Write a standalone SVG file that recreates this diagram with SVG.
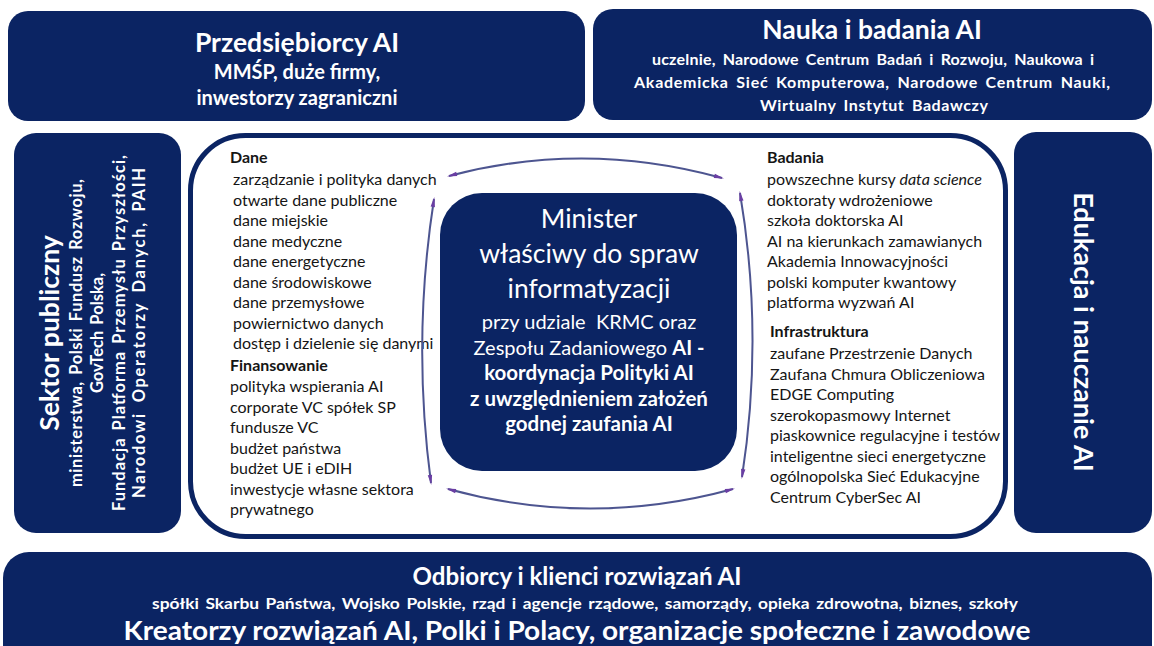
<svg xmlns="http://www.w3.org/2000/svg" width="1154" height="646" viewBox="0 0 1154 646">
<style>
  .navy { fill: #0b2463; }
  .wt { fill: #ffffff; font-family: "Lato", "Open Sans", sans-serif; text-anchor: middle; }
  .b { font-weight: bold; }
  .lst { fill: #151515; font-family: "Lato", "Open Sans", sans-serif; font-size: 16px; }
  .hd { font-weight: bold; }
  .arc { fill: none; stroke: #4d5590; stroke-width: 2; }
</style>
<defs>
  <marker id="ah" viewBox="0 0 10 6" refX="8" refY="3" markerWidth="11" markerHeight="6" markerUnits="userSpaceOnUse" orient="auto-start-reverse">
    <path d="M0,0.8 L10,3 L0,5.2 Z" fill="#6a3ea3"/>
  </marker>
</defs>
<rect width="1154" height="646" fill="#ffffff"/>

<g id="przedsiebiorcy">
  <rect class="navy" x="8" y="11" width="577" height="110" rx="20"/>
  <text class="wt b" x="297" y="52" font-size="26.5">Przedsiębiorcy AI</text>
  <text class="wt b" x="297" y="79" font-size="20">MMŚP, duże firmy,</text>
  <text class="wt b" x="297" y="105" font-size="20">inwestorzy zagraniczni</text>
</g>

<g id="nauka">
  <rect class="navy" x="593" y="9" width="559" height="111" rx="20"/>
  <text class="wt b" x="872" y="39" font-size="26.5">Nauka i badania AI</text>
  <text class="wt b" x="873" y="65" font-size="16" textLength="442" word-spacing="3">uczelnie, Narodowe Centrum Badań i Rozwoju, Naukowa i</text>
  <text class="wt b" x="872" y="88" font-size="16" textLength="476" word-spacing="3">Akademicka Sieć Komputerowa, Narodowe Centrum Nauki,</text>
  <text class="wt b" x="874" y="111" font-size="16" textLength="228" word-spacing="3">Wirtualny Instytut Badawczy</text>
</g>

<g id="sektor">
  <rect class="navy" x="14" y="133" width="167" height="400" rx="22"/>
  <g transform="translate(0,333) rotate(-90)">
    <text class="wt b" x="0" y="59" font-size="26.5">Sektor publiczny</text>
    <text class="wt b" x="0" y="82" font-size="16.5" textLength="308" word-spacing="2">ministerstwa, Polski Fundusz Rozwoju,</text>
    <text class="wt b" x="0" y="103" font-size="16.5" word-spacing="2">GovTech Polska,</text>
    <text class="wt b" x="0" y="125" font-size="16.5" textLength="356" word-spacing="2">Fundacja Platforma Przemysłu Przyszłości,</text>
    <text class="wt b" x="0" y="145" font-size="16.5" textLength="330" word-spacing="4">Narodowi Operatorzy Danych, PAIH</text>
  </g>
</g>

<g id="edukacja">
  <rect class="navy" x="1014" y="132" width="138" height="401" rx="22"/>
  <g transform="translate(1074,332) rotate(90)">
    <text class="wt b" x="0" y="0" font-size="27">Edukacja i nauczanie AI</text>
  </g>
</g>

<g id="obszary">
  <rect x="190.5" y="135.5" width="815" height="401" rx="55" fill="#ffffff" stroke="#0b2463" stroke-width="5"/>
  <g id="dane">
    <text class="lst hd" x="230" y="163">Dane</text>
    <text class="lst" x="233" y="185">zarządzanie i polityka danych</text>
    <text class="lst" x="233" y="205.5">otwarte dane publiczne</text>
    <text class="lst" x="233" y="226">dane miejskie</text>
    <text class="lst" x="233" y="246.5">dane medyczne</text>
    <text class="lst" x="233" y="267">dane energetyczne</text>
    <text class="lst" x="233" y="287.5">dane środowiskowe</text>
    <text class="lst" x="233" y="308">dane przemysłowe</text>
    <text class="lst" x="233" y="328.5">powiernictwo danych</text>
    <text class="lst" x="233" y="349">dostęp i dzielenie się danymi</text>
  </g>
  <g id="finansowanie">
    <text class="lst hd" x="230" y="371">Finansowanie</text>
    <text class="lst" x="230" y="392">polityka wspierania AI</text>
    <text class="lst" x="230" y="412.5">corporate VC spółek SP</text>
    <text class="lst" x="230" y="433">fundusze VC</text>
    <text class="lst" x="230" y="453.5">budżet państwa</text>
    <text class="lst" x="230" y="474">budżet UE i eDIH</text>
    <text class="lst" x="230" y="494.5">inwestycje własne sektora</text>
    <text class="lst" x="230" y="515">prywatnego</text>
  </g>
  <g id="badania">
    <text class="lst hd" x="767" y="163">Badania</text>
    <text class="lst" x="767" y="185">powszechne kursy <tspan font-style="italic">data science</tspan></text>
    <text class="lst" x="767" y="205.5">doktoraty wdrożeniowe</text>
    <text class="lst" x="767" y="226">szkoła doktorska AI</text>
    <text class="lst" x="767" y="246.5">AI na kierunkach zamawianych</text>
    <text class="lst" x="767" y="267">Akademia Innowacyjności</text>
    <text class="lst" x="767" y="287.5">polski komputer kwantowy</text>
    <text class="lst" x="767" y="308">platforma wyzwań AI</text>
  </g>
  <g id="infrastruktura">
    <text class="lst hd" x="770" y="337">Infrastruktura</text>
    <text class="lst" x="770" y="359">zaufane Przestrzenie Danych</text>
    <text class="lst" x="770" y="379.5">Zaufana Chmura Obliczeniowa</text>
    <text class="lst" x="770" y="400">EDGE Computing</text>
    <text class="lst" x="770" y="420.5">szerokopasmowy Internet</text>
    <text class="lst" x="770" y="441">piaskownice regulacyjne i testów</text>
    <text class="lst" x="770" y="461.5">inteligentne sieci energetyczne</text>
    <text class="lst" x="770" y="482">ogólnopolska Sieć Edukacyjne</text>
    <text class="lst" x="770" y="502.5">Centrum CyberSec AI</text>
  </g>
</g>

<g id="minister">
  <rect class="navy" x="440" y="193" width="297" height="278" rx="42"/>
  <text class="wt" x="589" y="228" font-size="26.5">Minister</text>
  <text class="wt" x="589" y="263" font-size="26.5">właściwy do spraw</text>
  <text class="wt" x="589" y="298" font-size="26.5">informatyzacji</text>
  <text class="wt" x="589" y="329" font-size="20" xml:space="preserve">przy udziale  KRMC oraz</text>
  <text class="wt" x="589" y="355" font-size="20">Zespołu Zadaniowego <tspan font-weight="bold">AI -</tspan></text>
  <text class="wt b" x="589" y="380" font-size="20.5">koordynacja Polityki AI</text>
  <text class="wt b" x="589" y="406" font-size="20.5">z uwzględnieniem założeń</text>
  <text class="wt b" x="589" y="431" font-size="20.5">godnej zaufania AI</text>
</g>

<g id="odbiorcy">
  <rect class="navy" x="3" y="552" width="1149" height="120" rx="26"/>
  <text class="wt b" x="577" y="585" font-size="24" textLength="329" lengthAdjust="spacingAndGlyphs">Odbiorcy i klienci rozwiązań AI</text>
  <text class="wt b" x="585" y="609" font-size="15" textLength="866" lengthAdjust="spacingAndGlyphs" word-spacing="2">spółki Skarbu Państwa, Wojsko Polskie, rząd i agencje rządowe, samorządy, opieka zdrowotna, biznes, szkoły</text>
  <text class="wt b" x="577" y="640" font-size="27" textLength="907" lengthAdjust="spacingAndGlyphs">Kreatorzy rozwiązań AI, Polki i Polacy, organizacje społeczne i zawodowe</text>
</g>

<g id="connectors">
  <path class="arc" d="M449,176 Q585,140 722,178" marker-start="url(#ah)" marker-end="url(#ah)"/>
  <path class="arc" d="M434,199 Q412,340 431,483" marker-start="url(#ah)" marker-end="url(#ah)"/>
  <path class="arc" d="M740,193 Q764,335 742,477" marker-start="url(#ah)" marker-end="url(#ah)"/>
  <path class="arc" d="M448,489 Q590,528 733,489" marker-start="url(#ah)" marker-end="url(#ah)"/>
</g>
</svg>
